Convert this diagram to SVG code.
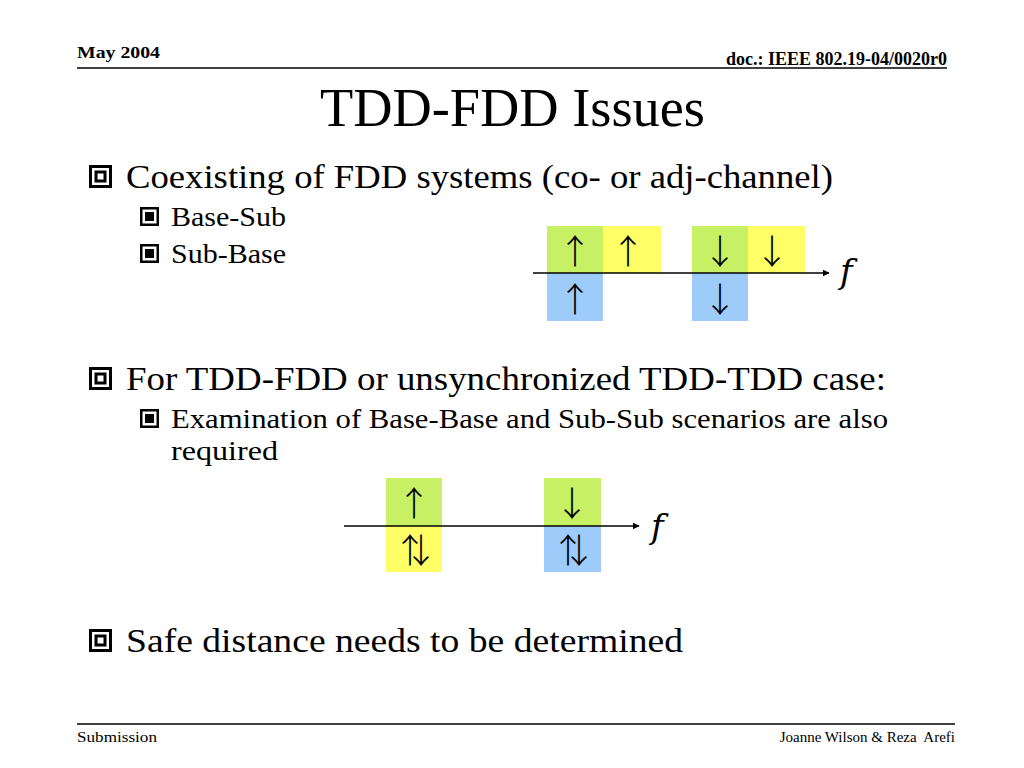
<svg xmlns="http://www.w3.org/2000/svg" width="1024" height="768" viewBox="0 0 1024 768">
<style>
.t{font-family:"Liberation Serif","Times New Roman",serif;fill:#000}
.hdr{font-family:"Liberation Serif","Times New Roman",serif;font-weight:bold;fill:#000}
.ftr{font-family:"Liberation Serif","Times New Roman",serif;font-size:15px;fill:#000;white-space:pre}
.b1{font-size:34px}
.b2{font-size:27px}
.ar{font-family:"Noto Sans CJK SC","Liberation Serif",sans-serif;font-size:34px;font-weight:300;text-anchor:middle;fill:#000}
.ar2{font-family:"Noto Sans CJK SC","Liberation Serif",sans-serif;font-size:34px;font-weight:300;letter-spacing:-23px;fill:#000}
.fl{font-family:"DejaVu Serif","Liberation Serif",serif;font-style:italic;font-size:34px;fill:#000}
.g{fill:#C8F064}
.y{fill:#FFFF66}
.bl{fill:#9DCBFA}
.ax{stroke:#000;stroke-width:1.6;fill:none}
.rule{stroke:#000;stroke-width:1.5}
</style>
<defs>
<marker id="ah" viewBox="0 0 10 10" refX="9" refY="5" markerWidth="7" markerHeight="7" markerUnits="userSpaceOnUse" orient="auto">
<path d="M0,0 L10,5 L0,10 z" fill="#000"/>
</marker>
<g id="bigb">
<rect x="1.5" y="1.5" width="20" height="20" fill="none" stroke="#000" stroke-width="3"/>
<rect x="7" y="7" width="9" height="9" fill="none" stroke="#000" stroke-width="3"/>
</g>
<g id="smb">
<rect x="1.25" y="1.25" width="16.5" height="16.5" fill="none" stroke="#000" stroke-width="2.5"/>
<rect x="5" y="5" width="9" height="9" fill="#000"/>
</g>
</defs>
<rect width="1024" height="768" fill="#fff"/>

<g id="header">
<text class="hdr" x="77" y="58" font-size="17" textLength="83" lengthAdjust="spacingAndGlyphs">May 2004</text>
<text class="hdr" x="947" y="65" font-size="18" text-anchor="end">doc.: IEEE 802.19-04/0020r0</text>
<line class="rule" x1="77" y1="68" x2="947" y2="68"/>
</g>

<g id="title">
<text class="t" x="320" y="126" font-size="54" textLength="385" lengthAdjust="spacingAndGlyphs">TDD-FDD Issues</text>
</g>

<g id="bullets">
<use href="#bigb" x="89" y="165"/>
<text class="t b1" x="126" y="188" textLength="707" lengthAdjust="spacingAndGlyphs">Coexisting of FDD systems (co- or adj-channel)</text>
<use href="#smb" x="140" y="207"/>
<text class="t b2" x="171" y="226" textLength="115" lengthAdjust="spacingAndGlyphs">Base-Sub</text>
<use href="#smb" x="140" y="244"/>
<text class="t b2" x="171" y="263" textLength="115" lengthAdjust="spacingAndGlyphs">Sub-Base</text>

<use href="#bigb" x="89" y="367"/>
<text class="t b1" x="126" y="390" textLength="760" lengthAdjust="spacingAndGlyphs">For TDD-FDD or unsynchronized TDD-TDD case:</text>
<use href="#smb" x="140" y="409"/>
<text class="t b2" x="171" y="428" textLength="717" lengthAdjust="spacingAndGlyphs">Examination of Base-Base and Sub-Sub scenarios are also</text>
<text class="t b2" x="171" y="460" textLength="107" lengthAdjust="spacingAndGlyphs">required</text>

<use href="#bigb" x="89" y="629"/>
<text class="t b1" x="126" y="652" textLength="557" lengthAdjust="spacingAndGlyphs">Safe distance needs to be determined</text>
</g>

<g id="diagram1">
<g id="d1-n1"><rect class="g" x="547" y="226" width="56" height="47"/><text class="ar" x="575" y="264">↑</text></g>
<g id="d1-n2"><rect class="y" x="603" y="226" width="58" height="47"/><text class="ar" x="628" y="264">↑</text></g>
<g id="d1-n3"><rect class="bl" x="547" y="273" width="56" height="48"/><text class="ar" x="575" y="312">↑</text></g>
<g id="d1-n4"><rect class="g" x="692" y="226" width="56" height="47"/><text class="ar" x="720" y="264">↓</text></g>
<g id="d1-n5"><rect class="y" x="748" y="226" width="57" height="47"/><text class="ar" x="772" y="264">↓</text></g>
<g id="d1-n6"><rect class="bl" x="692" y="273" width="56" height="48"/><text class="ar" x="720" y="312">↓</text></g>
<text class="fl" x="840" y="283">f</text>
</g>

<g id="diagram2">
<g id="d2-n1"><rect class="g" x="386" y="478" width="56" height="48"/><text class="ar" x="414" y="516">↑</text></g>
<g id="d2-n2"><rect class="y" x="386" y="526" width="56" height="46"/><text class="ar2" x="393" y="563">↑↓</text></g>
<g id="d2-n3"><rect class="g" x="544" y="478" width="57" height="48"/><text class="ar" x="572" y="516">↓</text></g>
<g id="d2-n4"><rect class="bl" x="544" y="526" width="57" height="46"/><text class="ar2" x="551" y="563">↑↓</text></g>
<text class="fl" x="651" y="538">f</text>
</g>

<g id="connectors">
<line class="ax" x1="533" y1="273" x2="829" y2="273" marker-end="url(#ah)"/>
<line class="ax" x1="344" y1="526" x2="639" y2="526" marker-end="url(#ah)"/>
</g>

<g id="footer">
<line class="rule" x1="77" y1="724" x2="955" y2="724"/>
<text class="ftr" x="77" y="742" textLength="80" lengthAdjust="spacingAndGlyphs">Submission</text>
<text class="ftr" x="955" y="742" text-anchor="end">Joanne Wilson &amp; Reza  Arefi</text>
</g>
</svg>
